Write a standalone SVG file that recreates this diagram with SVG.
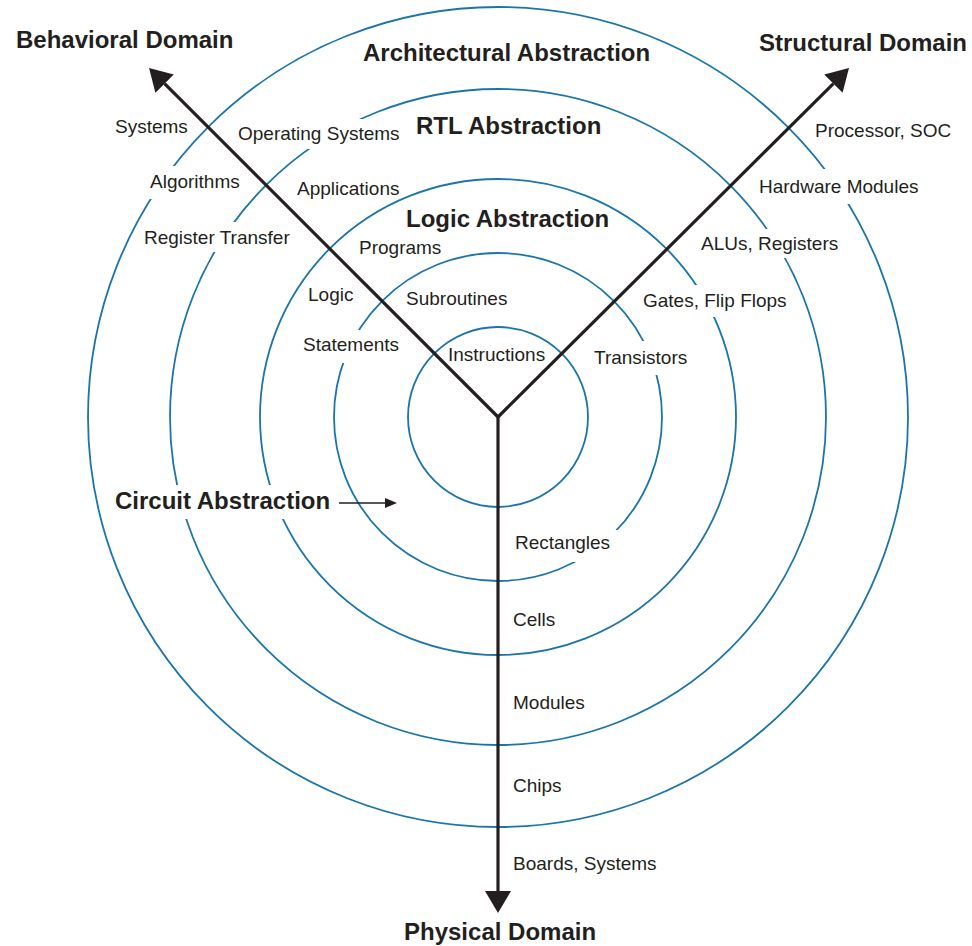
<svg xmlns="http://www.w3.org/2000/svg" width="972" height="946" viewBox="0 0 972 946">
  <style>
    .ring { fill: none; stroke: #1b75a8; stroke-width: 1.8; }
    .gap { fill: #ffffff; stroke: none; }
    .axis { fill: none; stroke: #231f20; stroke-width: 3.2; }
    .pointer { fill: none; stroke: #231f20; stroke-width: 1.6; }
    .lbl { font-family: "Liberation Sans", Arial, Helvetica, sans-serif; font-size: 19px; fill: #231f20; }
    .ttl { font-family: "Liberation Sans", Arial, Helvetica, sans-serif; font-size: 24px; font-weight: bold; fill: #231f20; }
  </style>
  <defs>
    <marker id="head" markerUnits="userSpaceOnUse" markerWidth="24" markerHeight="28" viewBox="0 -14 24 28" refX="0" refY="0" orient="auto">
      <path d="M0,-13 L22,0 L0,13 Z" fill="#231f20"/>
    </marker>
    <marker id="smallhead" markerUnits="userSpaceOnUse" markerWidth="14" markerHeight="12" viewBox="0 -6 14 12" refX="0" refY="0" orient="auto">
      <path d="M0,-5 L12,0 L0,5 Z" fill="#231f20"/>
    </marker>
  </defs>

  <rect width="972" height="946" fill="#ffffff"/>

  <!-- concentric abstraction levels -->
  <g id="rings">
    <circle class="ring" cx="498" cy="417" r="90"/>
    <circle class="ring" cx="498" cy="417" r="164"/>
    <circle class="ring" cx="498" cy="417" r="238"/>
    <circle class="ring" cx="498" cy="417" r="328"/>
    <circle class="ring" cx="498" cy="417" r="410"/>
  </g>

  <!-- openings in the rings behind labels -->
  <g id="ring-gaps">
    <rect class="gap" x="145" y="166" width="100" height="33"/>
    <rect class="gap" x="752" y="169" width="183" height="35"/>
    <rect class="gap" x="232" y="119" width="173" height="30"/>
    <rect class="gap" x="143" y="222" width="157" height="30"/>
    <rect class="gap" x="694" y="229" width="154" height="29"/>
    <rect class="gap" x="637" y="285" width="153" height="32"/>
    <rect class="gap" x="588" y="341" width="106" height="34"/>
    <rect class="gap" x="297" y="330" width="108" height="33"/>
    <rect class="gap" x="509" y="530" width="113" height="32"/>
    <rect class="gap" x="108" y="485" width="229" height="34"/>
  </g>

  <!-- domain axes -->
  <g id="connectors">
    <line class="axis" x1="498" y1="417" x2="164.6" y2="83.6" marker-end="url(#head)"/>
    <line class="axis" x1="498" y1="417" x2="833.4" y2="83.6" marker-end="url(#head)"/>
    <line class="axis" x1="498" y1="415" x2="498" y2="891" marker-end="url(#head)"/>
    <line class="pointer" x1="339" y1="503" x2="385" y2="503" marker-end="url(#smallhead)"/>
  </g>

  <!-- domain titles -->
  <g id="behavioral-domain"><text class="ttl" x="16" y="48">Behavioral Domain</text></g>
  <g id="structural-domain"><text class="ttl" x="759" y="51">Structural Domain</text></g>
  <g id="physical-domain"><text class="ttl" x="404" y="940">Physical Domain</text></g>

  <!-- abstraction level titles -->
  <g id="architectural-abstraction"><text class="ttl" x="363" y="61">Architectural Abstraction</text></g>
  <g id="rtl-abstraction"><text class="ttl" x="416" y="134">RTL Abstraction</text></g>
  <g id="logic-abstraction"><text class="ttl" x="406" y="227">Logic Abstraction</text></g>
  <g id="circuit-abstraction"><text class="ttl" x="115" y="509">Circuit Abstraction</text></g>

  <!-- behavioral domain entries -->
  <g id="b-systems"><text class="lbl" x="115" y="133">Systems</text></g>
  <g id="b-algorithms"><text class="lbl" x="150" y="188">Algorithms</text></g>
  <g id="b-register-transfer"><text class="lbl" x="144" y="244">Register Transfer</text></g>
  <g id="b-logic"><text class="lbl" x="308" y="301">Logic</text></g>
  <g id="b-statements"><text class="lbl" x="303" y="351">Statements</text></g>
  <g id="b-operating-systems"><text class="lbl" x="238" y="140">Operating Systems</text></g>
  <g id="b-applications"><text class="lbl" x="297" y="195">Applications</text></g>
  <g id="b-programs"><text class="lbl" x="359" y="254">Programs</text></g>
  <g id="b-subroutines"><text class="lbl" x="406" y="305">Subroutines</text></g>
  <g id="b-instructions"><text class="lbl" x="448" y="361">Instructions</text></g>

  <!-- structural domain entries -->
  <g id="s-processor"><text class="lbl" x="815" y="137">Processor, SOC</text></g>
  <g id="s-hardware-modules"><text class="lbl" x="759" y="193">Hardware Modules</text></g>
  <g id="s-alus"><text class="lbl" x="701" y="250">ALUs, Registers</text></g>
  <g id="s-gates"><text class="lbl" x="643" y="307">Gates, Flip Flops</text></g>
  <g id="s-transistors"><text class="lbl" x="594" y="364">Transistors</text></g>

  <!-- physical domain entries -->
  <g id="p-rectangles"><text class="lbl" x="515" y="549">Rectangles</text></g>
  <g id="p-cells"><text class="lbl" x="513" y="626">Cells</text></g>
  <g id="p-modules"><text class="lbl" x="513" y="709">Modules</text></g>
  <g id="p-chips"><text class="lbl" x="513" y="792">Chips</text></g>
  <g id="p-boards"><text class="lbl" x="513" y="870">Boards, Systems</text></g>
</svg>
